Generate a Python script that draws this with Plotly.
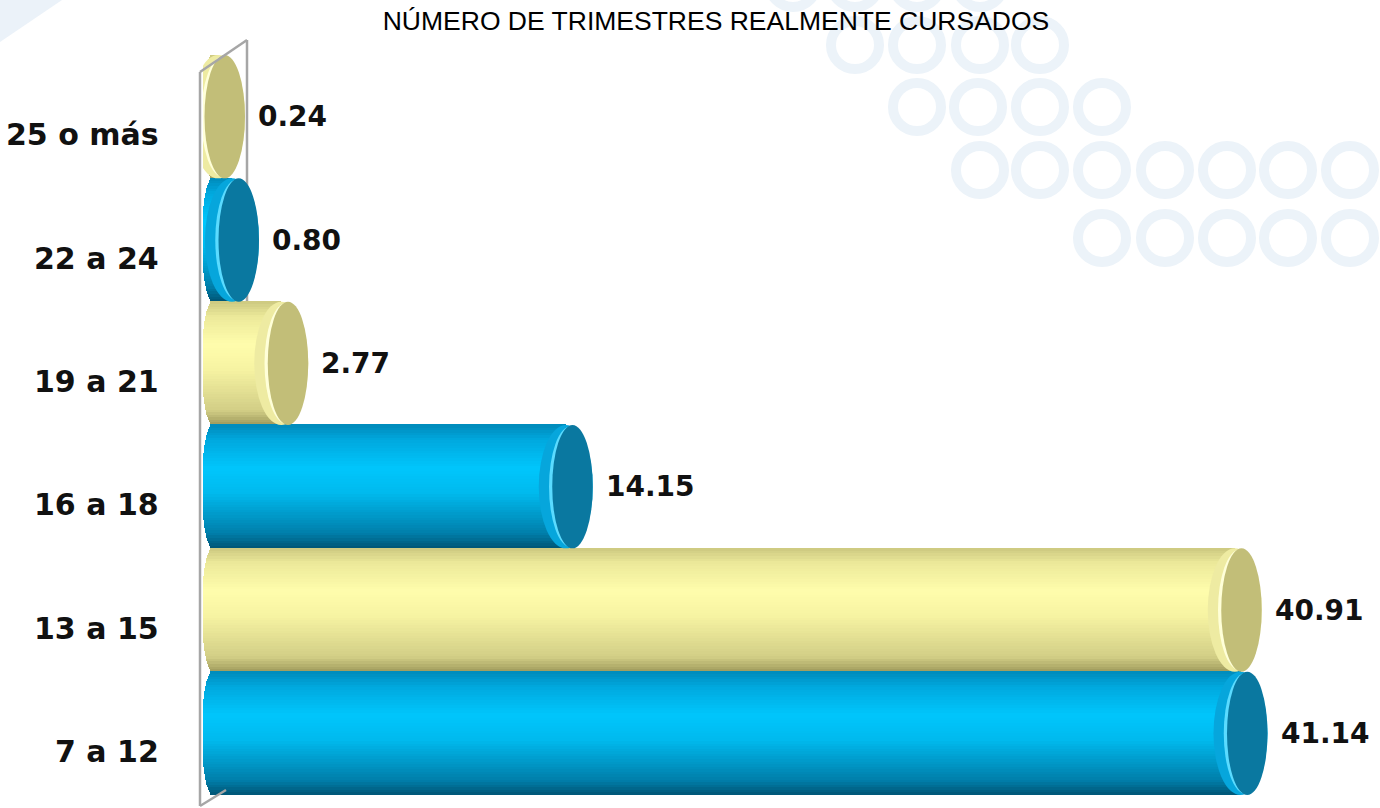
import math
import plotly.graph_objects as go

# ---------------- data ----------------
categories = ["7 a 12", "13 a 15", "16 a 18", "19 a 21", "22 a 24", "25 o más"]
values = [41.14, 40.91, 14.15, 2.77, 0.80, 0.24]
value_labels = ["41.14", "40.91", "14.15", "2.77", "0.80", "0.24"]
series_tone = ["blue", "yellow", "blue", "yellow", "blue", "yellow"]
title_text = "NÚMERO DE TRIMESTRES REALMENTE CURSADOS"

# ---------------- style ----------------
W, H = 1380, 808
PLOT_L, PLOT_T, PLOT_B = 203, 55, 795
ML, MT = PLOT_L, PLOT_T
MR, MB = 0, H - PLOT_B
PX_PER_UNIT = 25.0
X0_PX = 212
x_min = (PLOT_L - X0_PX) / PX_PER_UNIT
x_max = x_min + (W - ML - MR) / PX_PER_UNIT
R_END = 27 / PX_PER_UNIT
R_BACK = 10 / PX_PER_UNIT

gradients = {
    "blue": [(0.0, (0, 84, 116)), (0.12, (0, 126, 170)), (0.45, (0, 186, 238)),
             (0.65, (0, 198, 252)), (0.88, (0, 168, 222)), (1.0, (0, 138, 186))],
    "yellow": [(0.0, (158, 154, 92)), (0.12, (210, 206, 134)), (0.45, (246, 243, 162)),
               (0.65, (255, 253, 172)), (0.88, (236, 233, 154)), (1.0, (204, 200, 128))],
}
face_rim = {"blue": "#06A6DC", "yellow": "#EEEBA2"}
face_hl = {"blue": "#5ADBFF", "yellow": "#FFFFD8"}
face_col = {"blue": "#0A78A0", "yellow": "#C2BE78"}


def grad(tone, t):
    stops = gradients[tone]
    for (t0, c0), (t1, c1) in zip(stops[:-1], stops[1:]):
        if t0 <= t <= t1:
            f = (t - t0) / (t1 - t0)
            c = [round(a + (b - a) * f) for a, b in zip(c0, c1)]
            return "rgb(%d,%d,%d)" % tuple(c)
    return "rgb(%d,%d,%d)" % stops[-1][1]


def px2paper_x(px):
    return (px - ML) / (W - ML - MR)


def px2paper_y(py):
    return (H - MB - py) / (H - MT - MB)


ypos = list(range(len(categories)))

fig = go.Figure()

# cylinder bodies drawn as thin horizontal strips (vertical shading gradient)
N = 48
for k in range(N):
    t0 = k / N
    tc = (k + 0.5) / N
    yy = 2 * tc - 1
    ext = math.sqrt(max(0.0, 1 - yy * yy))
    bases = [-R_BACK * ext for _ in values]
    lengths = [v - b for v, b in zip(values, bases)]
    colors = [grad(tone, tc) for tone in series_tone]
    fig.add_trace(go.Bar(
        orientation="h", y=ypos, x=lengths, base=bases,
        offset=-0.5 + t0, width=1.0 / N + 0.006,
        marker=dict(color=colors, line=dict(width=0)),
        showlegend=False, hoverinfo="skip",
    ))

shapes = []
# end faces of the cylinders
for i, (v, tone) in enumerate(zip(values, series_tone)):
    shapes.append(dict(type="circle", xref="x", yref="y", x0=v - R_END, x1=v + R_END,
                       y0=i - 0.5, y1=i + 0.5, fillcolor=face_rim[tone], line=dict(width=0)))
    shapes.append(dict(type="circle", xref="x", yref="y", x0=v - 0.62 * R_END, x1=v + R_END,
                       y0=i - 0.49, y1=i + 0.49, fillcolor=face_hl[tone], line=dict(width=0)))
    shapes.append(dict(type="circle", xref="x", yref="y", x0=v - 0.5 * R_END, x1=v + R_END,
                       y0=i - 0.5, y1=i + 0.5, fillcolor=face_col[tone], line=dict(width=0)))

# decorative background rings
ring_color = "#ECF3F9"
rings = [(793, -17), (855, -17), (917, -17), (980, -17),
         (855, 45), (917, 45), (980, 45), (1040, 45),
         (917, 107), (978, 107), (1040, 107), (1102, 107),
         (980, 170), (1040, 170), (1102, 170), (1165, 170), (1227, 170), (1288, 170), (1350, 170), (1412, 170),
         (1102, 238), (1165, 238), (1227, 238), (1288, 238), (1350, 238), (1412, 238)]
for cx, cy in rings:
    shapes.append(dict(type="circle", xref="paper", yref="paper", layer="below",
                       x0=px2paper_x(cx - 24), x1=px2paper_x(cx + 24),
                       y0=px2paper_y(cy + 24), y1=px2paper_y(cy - 24),
                       line=dict(color=ring_color, width=10), fillcolor="rgba(0,0,0,0)"))
# top-left corner decoration
shapes.append(dict(type="path", xref="paper", yref="paper", layer="below",
                   path="M %f,%f L %f,%f L %f,%f Z" % (px2paper_x(0), px2paper_y(0), px2paper_x(62), px2paper_y(0),
                                                      px2paper_x(0), px2paper_y(42)),
                   fillcolor="#EBF2F9", line=dict(width=0)))

# side wall outline
wall = "#A6A6A6"
shapes.append(dict(type="line", xref="paper", yref="paper", x0=px2paper_x(200), x1=px2paper_x(200),
                   y0=px2paper_y(72), y1=px2paper_y(806), line=dict(color=wall, width=2.5)))
shapes.append(dict(type="line", xref="paper", yref="paper", x0=px2paper_x(200), x1=px2paper_x(247),
                   y0=px2paper_y(72), y1=px2paper_y(40), line=dict(color=wall, width=2.5)))
shapes.append(dict(type="line", xref="paper", yref="paper", layer="below", x0=px2paper_x(247),
                   x1=px2paper_x(247), y0=px2paper_y(40), y1=px2paper_y(790), line=dict(color=wall, width=2.5)))
shapes.append(dict(type="line", xref="paper", yref="paper", x0=px2paper_x(200), x1=px2paper_x(226),
                   y0=px2paper_y(806), y1=px2paper_y(790), line=dict(color=wall, width=2.5)))

annotations = []
for i, cat in enumerate(categories):
    annotations.append(dict(text=cat, xref="paper", yref="y", x=px2paper_x(161), y=i,
                            xanchor="right", yanchor="middle", yshift=-18, showarrow=False,
                            font=dict(family="DejaVu Sans", size=30, color="#111111", weight="bold")))
for i, (v, lab) in enumerate(zip(values, value_labels)):
    annotations.append(dict(text=lab, xref="x", yref="y", x=v, y=i, xanchor="left", yanchor="middle",
                            xshift=38, showarrow=False,
                            font=dict(family="DejaVu Sans", size=28, color="#111111", weight="bold")))

fig.update_layout(
    width=W, height=H,
    margin=dict(l=ML, r=MR, t=MT, b=MB),
    paper_bgcolor="white", plot_bgcolor="rgba(0,0,0,0)",
    barmode="overlay", bargap=0,
    title=dict(text=title_text, x=716 / W, xref="container", xanchor="center",
               y=1 - 21 / H, yref="container", yanchor="middle",
               font=dict(family="Liberation Sans, Arial", size=26.5, color="#000000")),
    xaxis=dict(range=[x_min, x_max], visible=False, fixedrange=True),
    yaxis=dict(range=[-0.5, 5.5], visible=False, fixedrange=True),
    shapes=shapes, annotations=annotations,
)

fig.write_html("out.html", config={"displayModeBar": False},
               post_script="document.body.style.margin='0px';")
